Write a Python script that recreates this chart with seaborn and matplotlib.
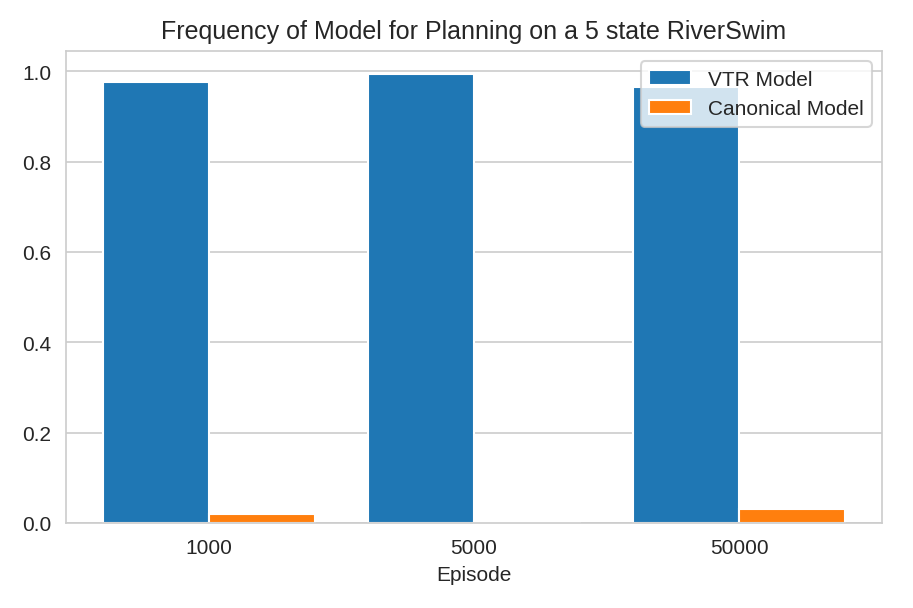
import matplotlib
matplotlib.use("Agg")
import matplotlib.pyplot as plt
import seaborn as sns
import pandas as pd

episodes = ["1000", "5000", "50000"]
vtr_freq = [0.977, 0.993, 0.966]
canonical_freq = [0.021, 0.005, 0.032]

df = pd.DataFrame({
    "Episode": episodes * 2,
    "Frequency": vtr_freq + canonical_freq,
    "Model": ["VTR Model"] * 3 + ["Canonical Model"] * 3,
})

sns.set_style("whitegrid")
plt.rcParams["font.family"] = ["Liberation Sans", "DejaVu Sans"]

fig, ax = plt.subplots(figsize=(6.087, 4.06), dpi=150)
sns.barplot(data=df, x="Episode", y="Frequency", hue="Model",
            palette=["#1f77b4", "#ff7f0e"], saturation=1, ax=ax)
ax.set_title("Frequency of Model for Planning on a 5 state RiverSwim", fontsize=12)
ax.set_ylabel("")
ax.set_xlabel("Episode", fontsize=10)
ax.tick_params(labelsize=10)
ax.set_xlim(-0.54, 2.54)
ax.set_ylim(0, 1.045)
ax.legend(title=None, loc="upper right", fontsize=10)
fig.subplots_adjust(left=66 / 913, right=882 / 913, top=1 - 52 / 609, bottom=1 - 524 / 609)
fig.savefig("out.png")
